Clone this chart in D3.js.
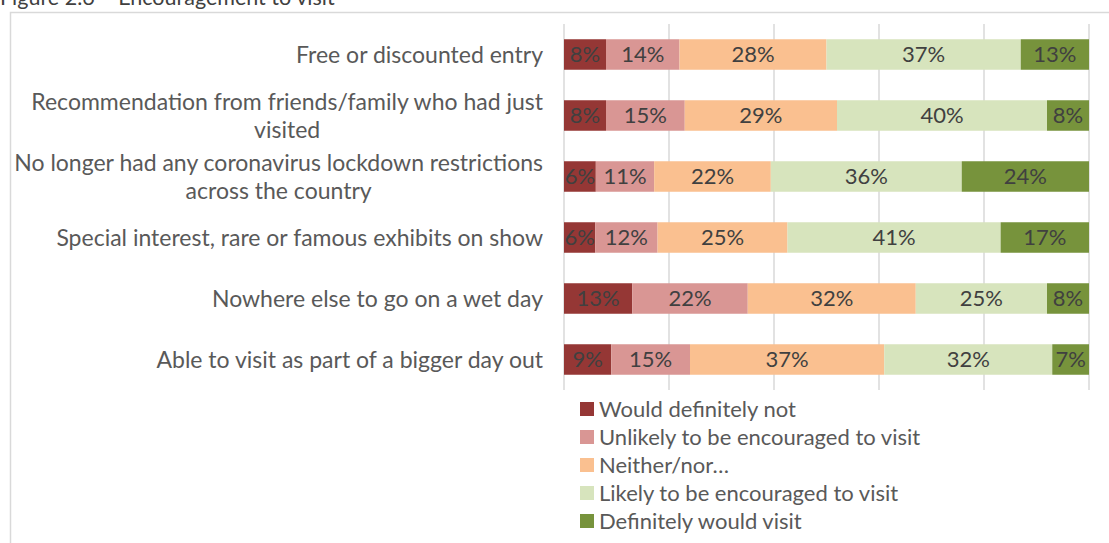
<!DOCTYPE html>
<html>
<head>
<meta charset="utf-8">
<script src="https://cdn.jsdelivr.net/npm/d3@7"></script>
<style>
  html, body { margin: 0; padding: 0; background: #fff; }
  svg { display: block; }
  text { font-family: Lato, "Open Sans", sans-serif; }
</style>
</head>
<body>
<svg id="chart" width="1109" height="543"></svg>
<script>
// Survey reasons (top to bottom) with line breaks as wrapped in the chart
const categories = [
  ["Free or discounted entry"],
  ["Recommendation from friends/family who had just", "visited"],
  ["No longer had any coronavirus lockdown restrictions", "across the country"],
  ["Special interest, rare or famous exhibits on show"],
  ["Nowhere else to go on a wet day"],
  ["Able to visit as part of a bigger day out"]
];

const seriesNames = [
  "Would definitely not",
  "Unlikely to be encouraged to visit",
  "Neither/nor…",
  "Likely to be encouraged to visit",
  "Definitely would visit"
];

// Percentages per series, in category order
const wouldNot   = [8, 8, 6, 6, 13, 9];
const unlikely   = [14, 15, 11, 12, 22, 15];
const neither    = [28, 29, 22, 25, 32, 37];
const likely     = [37, 40, 36, 41, 25, 32];
const definitely = [13, 8, 24, 17, 8, 7];

const xTicks = [0, 0.2, 0.4, 0.6, 0.8, 1];

const colors = ["#953735", "#d99694", "#fac090", "#d7e4bd", "#77933c"];
const seriesValues = [wouldNot, unlikely, neither, likely, definitely];

const FS = 22;
const CAT_FS = 23;
const svg = d3.select("#chart");

// Title (mostly above the visible area)
svg.append("text")
  .attr("x", 0).attr("y", 5)
  .attr("font-size", 21.5)
  .attr("fill", "#404040")
  .text("Figure 2.6 – Encouragement to visit");

// Chart frame
svg.append("rect")
  .attr("x", 10.5).attr("y", 12.5)
  .attr("width", 1120).attr("height", 560)
  .attr("fill", "none")
  .attr("stroke", "#d9d9d9")
  .attr("stroke-width", 1.5);

const rows = categories.map((c, i) => {
  const row = { label: c, key: i };
  seriesNames.forEach((s, j) => row[s] = seriesValues[j][i]);
  return row;
});

const x = d3.scaleLinear().domain([0, 1]).range([564, 1089]);
const y = d3.scaleBand()
  .domain(d3.range(categories.length))
  .range([24, 390])
  .paddingInner(0.5)
  .paddingOuter(0.25);

// Vertical gridlines
svg.append("g")
  .selectAll("line")
  .data(xTicks)
  .join("line")
  .attr("x1", d => x(d)).attr("x2", d => x(d))
  .attr("y1", 24).attr("y2", 390)
  .attr("stroke", "#d9d9d9")
  .attr("stroke-width", 1.5);

// 100% stacked bars
const stacked = d3.stack().keys(seriesNames).offset(d3.stackOffsetExpand)(rows);

const layers = svg.append("g")
  .selectAll("g")
  .data(stacked)
  .join("g")
  .attr("fill", (d, i) => colors[i]);

layers.selectAll("rect")
  .data(d => d)
  .join("rect")
  .attr("x", d => x(d[0]))
  .attr("width", d => x(d[1]) - x(d[0]))
  .attr("y", d => y(d.data.key))
  .attr("height", y.bandwidth());

// Value labels centred in each segment
const valueLabels = svg.append("g");
stacked.forEach(layer => {
  const key = layer.key;
  valueLabels.selectAll(null)
    .data(layer)
    .join("text")
    .attr("x", d => (x(d[0]) + x(d[1])) / 2)
    .attr("y", d => y(d.data.key) + y.bandwidth() / 2)
    .attr("dy", "0.36em")
    .attr("text-anchor", "middle")
    .attr("font-size", FS)
    .attr("fill", "#404040")
    .text(d => d.data[key] + "%");
});

// Category labels: block right-aligned to the axis, lines centred within it
const catG = svg.append("g");
const lineH = 28;
categories.forEach((lines, i) => {
  const cy = y(i) + y.bandwidth() / 2;
  const g = catG.append("g");
  const texts = lines.map((ln, k) => g.append("text")
    .attr("font-size", CAT_FS)
    .attr("fill", "#595959")
    .attr("text-anchor", "middle")
    .attr("y", cy + (k - (lines.length - 1) / 2) * lineH)
    .attr("dy", "0.35em")
    .text(ln));
  const w = d3.max(texts, t => t.node().getComputedTextLength());
  const right = 543;
  texts.forEach(t => t.attr("x", right - w / 2));
});

// Legend
const legend = svg.append("g");
seriesNames.forEach((name, i) => {
  const ly = 409 + i * 28;
  legend.append("rect")
    .attr("x", 580).attr("y", ly - 7)
    .attr("width", 14).attr("height", 14)
    .attr("fill", colors[i]);
  legend.append("text")
    .attr("x", 599).attr("y", ly)
    .attr("dy", "0.35em")
    .attr("font-size", FS)
    .attr("fill", "#595959")
    .text(name);
});
</script>
</body>
</html>
